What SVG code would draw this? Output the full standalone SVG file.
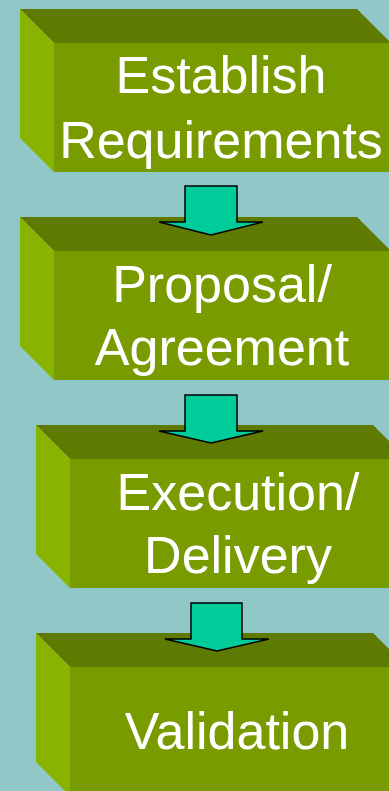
<svg xmlns="http://www.w3.org/2000/svg" width="389" height="791" viewBox="0 0 389 791">
<style>
.top{fill:#5e7a00}
.front{fill:#789c00}
.side{fill:#88b400}
.lbl{fill:#ffffff;font-family:"Liberation Sans",Arial,sans-serif;font-size:52px;text-anchor:middle}
.arrow{fill:#00cc99;stroke:#000000;stroke-width:1.5;stroke-linejoin:miter}
</style>
<rect width="389" height="791" fill="#90c8c8"/>
<g id="node-establish">
<polygon class="top" points="20,9 357,9 391,43 54,43"/>
<polygon class="side" points="20,9 54,43 54,172 20,138"/>
<rect class="front" x="54" y="43" width="337" height="129"/>
<text class="lbl" x="221" y="93">Establish</text>
<text class="lbl" x="221" y="158">Requirements</text>
</g>
<g id="node-proposal">
<polygon class="top" points="20,217 357,217 391,251 54,251"/>
<polygon class="side" points="20,217 54,251 54,380 20,346"/>
<rect class="front" x="54" y="251" width="337" height="129"/>
<text class="lbl" x="222" y="302">Proposal/</text>
<text class="lbl" x="222" y="365">Agreement</text>
</g>
<g id="node-execution">
<polygon class="top" points="36,425 373,425 407,459 70,459"/>
<polygon class="side" points="36,425 70,459 70,588 36,554"/>
<rect class="front" x="70" y="459" width="337" height="129"/>
<text class="lbl" x="238" y="510">Execution/</text>
<text class="lbl" x="238" y="573">Delivery</text>
</g>
<g id="node-validation">
<polygon class="top" points="36,633 373,633 407,667 70,667"/>
<polygon class="side" points="36,633 70,667 70,796 36,762"/>
<rect class="front" x="70" y="667" width="337" height="129"/>
<text class="lbl" x="237" y="749">Validation</text>
</g>
<g id="connectors">
<polygon class="arrow" points="185,186 237,186 237,222 263,222 211,235 159,222 185,222"/>
<polygon class="arrow" points="185,395 237,395 237,431 263,431 211,443 159,431 185,431"/>
<polygon class="arrow" points="191,603 242,603 242,639 269,639 217,651 165,639 191,639"/>
</g>
</svg>
